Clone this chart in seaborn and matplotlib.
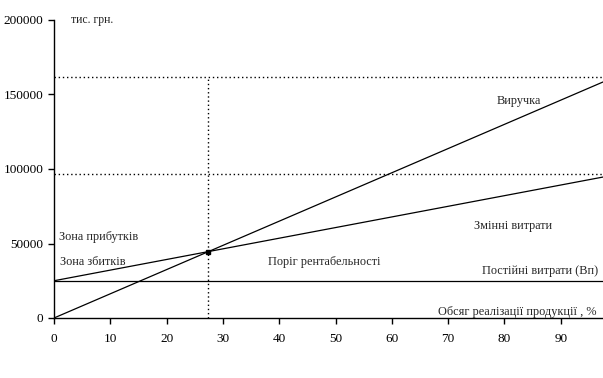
import numpy as np
import pandas as pd
import matplotlib
matplotlib.use("Agg")
import matplotlib.pyplot as plt
import seaborn as sns

# data
volume = [0, 97.5]                 # обсяг реалізації, %
revenue = [0, 158400]              # виручка
variable_costs = [25000, 94600]    # змінні витрати (з постійними)
fixed_costs = [25000, 25000]       # постійні витрати
break_even_x = 27.4
break_even_y = 44600
revenue_level = 162000
costs_level = 96800

x_ticks = [0, 10, 20, 30, 40, 50, 60, 70, 80, 90]
y_ticks = [0, 50000, 100000, 150000, 200000]

sns.set_style("ticks")
plt.rcParams["font.family"] = ["Liberation Serif", "DejaVu Serif"]
plt.rcParams["font.size"] = 8.8

df = pd.DataFrame({
    "x": volume * 3,
    "y": revenue + variable_costs + fixed_costs,
    "series": ["Виручка"] * 2 + ["Змінні витрати"] * 2 + ["Постійні витрати"] * 2,
})

fig = plt.figure(figsize=(6.03, 3.78), dpi=100)
ax = fig.add_axes([54 / 603, 60 / 378, 549 / 603, 298 / 378])

sns.lineplot(data=df, x="x", y="y", units="series", estimator=None,
             color="black", linewidth=0.9, ax=ax, legend=False)

# dotted guide lines
ax.axhline(revenue_level, color="black", linestyle=(0, (1, 2)), linewidth=1)
ax.axhline(costs_level, color="black", linestyle=(0, (1, 2)), linewidth=1)
ax.plot([break_even_x, break_even_x], [0, revenue_level], color="black",
        linestyle=(0, (1, 2)), linewidth=1)
ax.plot([break_even_x], [break_even_y], marker="s", markersize=3, color="black")

ax.set_xlim(0, volume[-1])
ax.set_ylim(0, 200000)
ax.set_xticks(x_ticks)
ax.set_yticks(y_ticks)
ax.set_xlabel("")
ax.set_ylabel("")
ax.tick_params(direction="out", length=4, width=1, colors="black", labelsize=9.5)
ax.tick_params(axis="x", pad=7)
sns.despine(ax=ax)
for s in ["left", "bottom"]:
    ax.spines[s].set_linewidth(1)
    ax.spines[s].set_color("black")

# annotations
ax.text(3, 200000, "тис. грн.", va="center", ha="left", fontsize=8.5)
ax.text(0.8, 54500, "Зона прибутків", va="center", ha="left")
ax.text(1.0, 37600, "Зона збитків", va="center", ha="left")
ax.text(38, 37600, "Поріг рентабельності", va="center", ha="left")
ax.text(78.6, 145600, "Виручка", va="center", ha="left")
ax.text(74.6, 61700, "Змінні витрати", va="center", ha="left")
ax.text(96.7, 31800, "Постійні витрати (Вп)", va="center", ha="right")
ax.text(96.4, 4000, "Обсяг реалізації продукції , %", va="center", ha="right")

fig.savefig("out.png", dpi=100)
